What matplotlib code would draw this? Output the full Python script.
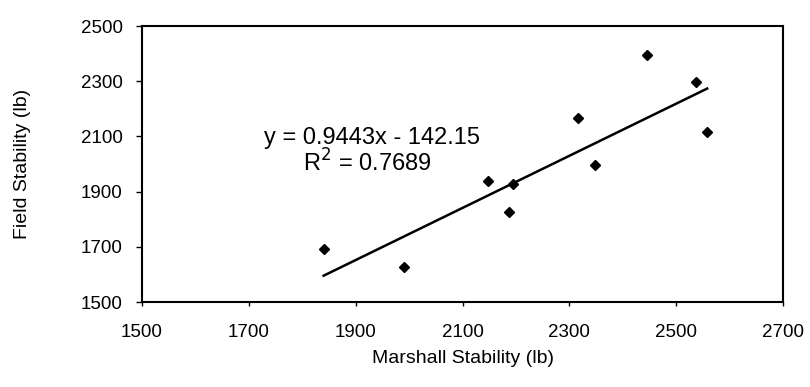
import matplotlib.pyplot as plt

# Data
marshall = [1840, 1990, 2147, 2187, 2195, 2317, 2348, 2446, 2537, 2558]
field = [1692, 1627, 1938, 1826, 1928, 2167, 1996, 2395, 2297, 2116]
slope = 0.9443
intercept = -142.15
x_ticks = [1500, 1700, 1900, 2100, 2300, 2500, 2700]
y_ticks = [1500, 1700, 1900, 2100, 2300, 2500]

plt.rcParams['font.family'] = ['Liberation Sans', 'DejaVu Sans']

fig = plt.figure(figsize=(8.1, 3.87), dpi=100)
ax = fig.add_axes([0.1753, 0.2196, 0.7914, 0.7132])

# Scatter points
ax.plot(marshall, field, 'D', markersize=5.5, color='black', zorder=3)

# Linear trendline over the data range
x_line = [min(marshall), max(marshall)]
ax.plot(x_line, [slope * x + intercept for x in x_line], color='black', lw=1.8)

ax.text(1930, 2093, 'y = 0.9443x - 142.15', fontsize=17, ha='center', va='center')
ax.text(1922, 2003, 'R$^2$ = 0.7689', fontsize=17, ha='center', va='center')

ax.set_xlim(1500, 2700)
ax.set_ylim(1500, 2500)
ax.set_xticks(x_ticks)
ax.set_yticks(y_ticks)
ax.tick_params(labelsize=13.5, width=1, color='black')
ax.tick_params(axis='x', length=3, pad=13)
ax.tick_params(axis='y', length=4, pad=10)
for s in ax.spines.values():
    s.set_linewidth(1.5)
    s.set_color('black')

ax.set_xlabel('Marshall Stability (lb)', fontsize=14, labelpad=6)
ax.set_ylabel('Field Stability (lb)', fontsize=14, labelpad=36)

fig.savefig('out.png', dpi=100)
